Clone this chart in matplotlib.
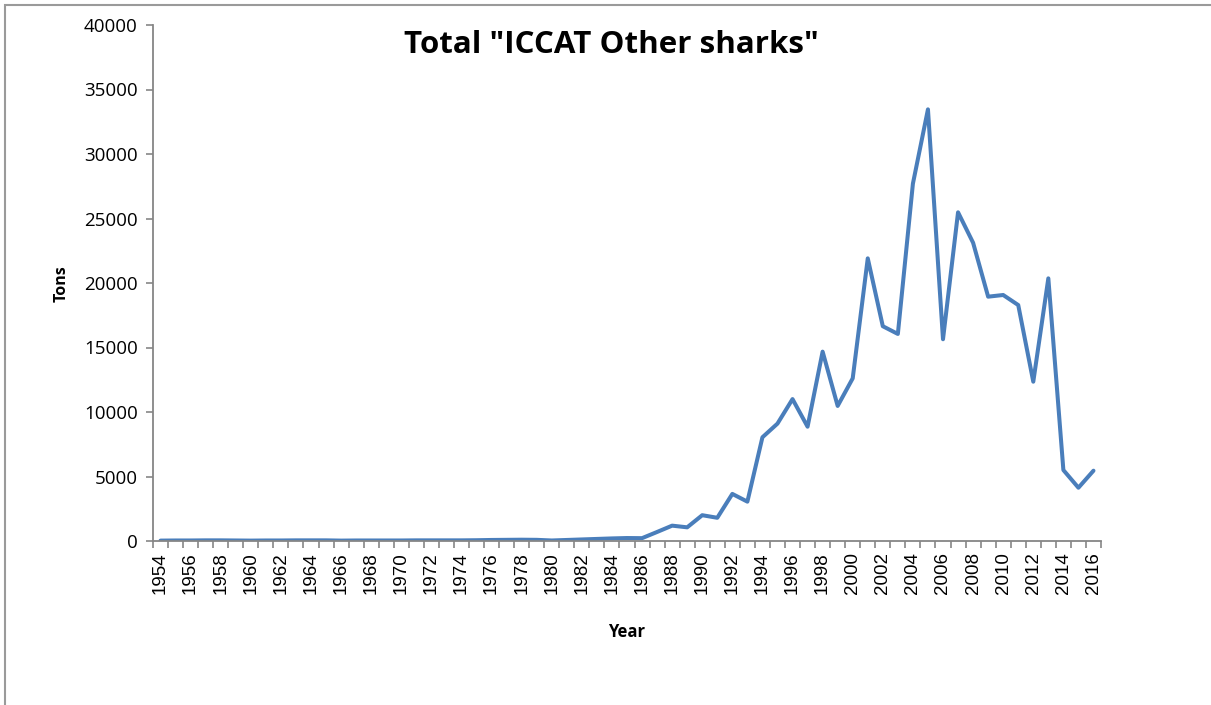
import numpy as np
import matplotlib
matplotlib.use("Agg")
import matplotlib.pyplot as plt
from matplotlib.patches import Rectangle

# --- Data (tons per year) ---
years = list(range(1954, 2017))
tons = [
    30, 40, 40, 50, 50, 40, 30, 40, 40, 50,   # 1954-1963
    50, 50, 30, 40, 40, 40, 40, 50, 50, 50,   # 1964-1973
    50, 60, 80, 90, 100, 90, 40, 80, 120, 160,  # 1974-1983
    200, 230, 220, 700, 1190, 1060, 2000, 1800, 3650, 3050,  # 1984-1993
    8040, 9100, 11000, 8860, 14680, 10470, 12610, 21910, 16650, 16050,  # 1994-2003
    27700, 33460, 15640, 25480, 23120, 18940, 19070, 18290, 12350, 20360,  # 2004-2013
    5500, 4130, 5450,  # 2014-2016
]
yticks = [0, 5000, 10000, 15000, 20000, 25000, 30000, 35000, 40000]

LINE_COLOR = "#4A7EBB"
AXIS_COLOR = "#868686"

W, H = 1211, 705
fig = plt.figure(figsize=(W / 100, H / 100), dpi=100)
fig.patch.set_facecolor("white")

# outer chart border (top and left visible, runs off right/bottom)
fig.patches.append(Rectangle((5 / W, -0.1), 1.2, 1.1 - 5 / H, transform=fig.transFigure,
                             fill=False, edgecolor="#9a9a9a", linewidth=1.5))

left, right, top, bottom = 153, 1101, 25, 541
ax = fig.add_axes([left / W, 1 - bottom / H, (right - left) / W, (bottom - top) / H])

x = np.arange(len(years))
ax.plot(x, tons, color=LINE_COLOR, linewidth=2.9, solid_joinstyle="round", solid_capstyle="round")

ax.set_xlim(-0.5, len(years) - 0.5)
ax.set_ylim(0, 40000)

for s in ["top", "right"]:
    ax.spines[s].set_visible(False)
for s in ["left", "bottom"]:
    ax.spines[s].set_color(AXIS_COLOR)
    ax.spines[s].set_linewidth(1.3)

ax.set_yticks(yticks)
ax.set_yticklabels([str(v) for v in yticks], family="Open Sans", fontsize=13.5)
ax.tick_params(axis="y", direction="out", length=5, width=1.2, color=AXIS_COLOR, pad=6)

# category labels every second year, boundary ticks between categories
ax.set_xticks(x[::2])
ax.set_xticklabels([str(y) for y in years[::2]], rotation=90, family="Liberation Sans", fontsize=13.5)
ax.set_xticks(np.arange(len(years) + 1) - 0.5, minor=True)
ax.tick_params(axis="x", which="major", length=0, pad=8)
ax.tick_params(axis="x", which="minor", direction="out", length=5, width=1.2, color=AXIS_COLOR)

fig.text(611 / W, 1 - 45 / H, 'Total "ICCAT Other sharks"', ha="center", va="center",
         family="Open Sans", fontweight="bold", fontsize=22.5)
fig.text(62 / W, 1 - 284 / H, "Tons", ha="center", va="center", rotation=90,
         family="Open Sans", fontweight="bold", fontsize=11.5)
fig.text(627 / W, 1 - 632 / H, "Year", ha="center", va="center",
         family="Open Sans", fontweight="bold", fontsize=12)

fig.savefig("out.png", dpi=100, facecolor="white")
